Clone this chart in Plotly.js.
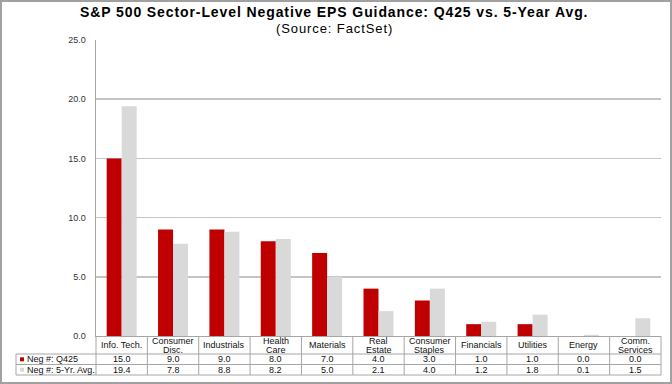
<!DOCTYPE html>
<html>
<head>
<meta charset="utf-8">
<script src="https://cdn.plot.ly/plotly-3.0.1.min.js"></script>
<style>html,body{margin:0;padding:0;background:#fff;}#chart{width:672px;height:384px;}</style>
</head>
<body>
<div id="chart"></div>
<script>
// ---- data ----
var categories = ['Info. Tech.', 'Consumer<br>Disc.', 'Industrials', 'Health<br>Care', 'Materials',
                  'Real<br>Estate', 'Consumer<br>Staples', 'Financials', 'Utilities', 'Energy', 'Comm.<br>Services'];
var seriesNames = ['Neg #: Q425', 'Neg #: 5-Yr. Avg.'];
var q425 = [15.0, 9.0, 9.0, 8.0, 7.0, 4.0, 3.0, 1.0, 1.0, 0.0, 0.0];
var fiveYrAvg = [19.4, 7.8, 8.8, 8.2, 5.0, 2.1, 4.0, 1.2, 1.8, 0.1, 1.5];
var titleText = 'S&P 500 Sector-Level Negative EPS Guidance: Q425 vs. 5-Year Avg.';
var subtitleText = '(Source: FactSet)';

// ---- geometry helpers (pixel -> paper) ----
var W = 672, H = 384, L = 96, R = 11, T = 40, B = 48;
var PW = W - L - R, PH = H - T - B;
function px(x) { return (x - L) / PW; }
function py(y) { return (H - B - y) / PH; }

var RED = '#C00000', GREY = '#D9D9D9', LINE = '#a6a6a6';
var FONT = 'Liberation Sans, Arial, sans-serif';
var xIdx = categories.map(function (c, i) { return i; });

var traces = [
  { type: 'bar', name: seriesNames[0], x: xIdx, y: q425, marker: { color: RED, line: { width: 0 } } },
  { type: 'bar', name: seriesNames[1], x: xIdx, y: fiveYrAvg, marker: { color: GREY, line: { width: 0 } } }
];

var annotations = [];
var shapes = [];

// titles
annotations.push({ xref: 'paper', yref: 'paper', x: px(334), y: py(12.5), xanchor: 'center', yanchor: 'middle',
  text: '<b><span style="letter-spacing:0.9px">' + titleText.replace(/&/g, '&amp;') + '</span></b>', showarrow: false,
  font: { family: FONT, size: 14, color: '#000' } });
annotations.push({ xref: 'paper', yref: 'paper', x: px(334.5), y: py(28.5), xanchor: 'center', yanchor: 'middle',
  text: '<span style="letter-spacing:0.9px">' + subtitleText + '</span>', showarrow: false,
  font: { family: FONT, size: 13, color: '#000' } });

var tfont = { family: FONT, size: 9, color: '#111' };
// category labels
categories.forEach(function (c, i) {
  var lines = c.split('<br>');
  if (lines.length === 1) {
    annotations.push({ xref: 'x', yref: 'paper', x: i, y: py(345), text: lines[0], showarrow: false,
      xanchor: 'center', yanchor: 'middle', font: tfont });
  } else {
    annotations.push({ xref: 'x', yref: 'paper', x: i, y: py(341), text: lines[0], showarrow: false,
      xanchor: 'center', yanchor: 'middle', font: tfont });
    annotations.push({ xref: 'x', yref: 'paper', x: i, y: py(349.5), text: lines[1], showarrow: false,
      xanchor: 'center', yanchor: 'middle', font: tfont });
  }
});
// value rows
var rowsY = [359.3, 369.7];
[q425, fiveYrAvg].forEach(function (arr, r) {
  arr.forEach(function (v, i) {
    annotations.push({ xref: 'x', yref: 'paper', x: i, y: py(rowsY[r]), text: v.toFixed(1), showarrow: false,
      xanchor: 'center', yanchor: 'middle', font: tfont });
  });
  annotations.push({ xref: 'paper', yref: 'paper', x: px(25), y: py(rowsY[r]), text: seriesNames[r], showarrow: false,
    xanchor: 'left', yanchor: 'middle', font: tfont });
  shapes.push({ type: 'rect', xref: 'paper', yref: 'paper', x0: px(20), x1: px(24), y0: py(rowsY[r] + 2), y1: py(rowsY[r] - 2),
    fillcolor: r === 0 ? RED : GREY, line: { width: 0 } });
});

// table grid
var lineStyle = { color: LINE, width: 1 };
for (var i = 0; i <= categories.length; i++) {
  var xp = i / categories.length;
  shapes.push({ type: 'line', xref: 'paper', yref: 'paper', x0: xp, x1: xp, y0: py(336), y1: py(375), line: lineStyle });
}
[354, 364.5, 375].forEach(function (yy) {
  shapes.push({ type: 'line', xref: 'paper', yref: 'paper', x0: px(16), x1: 1, y0: py(yy), y1: py(yy), line: lineStyle });
});
shapes.push({ type: 'line', xref: 'paper', yref: 'paper', x0: px(16), x1: px(16), y0: py(354), y1: py(375), line: lineStyle });

// outer frame
shapes.push({ type: 'rect', xref: 'paper', yref: 'paper', x0: px(1), x1: px(671), y0: py(383), y1: py(1),
  line: { color: '#a0a0a0', width: 2 }, fillcolor: 'rgba(0,0,0,0)' });

var layout = {
  width: W, height: H,
  margin: { l: L, r: R, t: T, b: B, pad: 0 },
  paper_bgcolor: '#fff', plot_bgcolor: '#fff',
  showlegend: false,
  barmode: 'group', bargap: 0.416, bargroupgap: 0,
  xaxis: { type: 'linear', range: [-0.5, categories.length - 0.5], showticklabels: false, showgrid: false,
           zeroline: false, showline: true, linecolor: LINE, linewidth: 1, ticks: '' },
  yaxis: { range: [0, 25], dtick: 5, tick0: 0, tickformat: '.1f', showgrid: true, gridcolor: '#c4c4c4', gridwidth: 1.5,
           zeroline: false, showline: true, linecolor: LINE, linewidth: 1.5, ticks: '', ticklabelstandoff: 7,
           tickfont: { family: FONT, size: 9, color: '#333' } },
  annotations: annotations,
  shapes: shapes
};

Plotly.newPlot('chart', traces, layout, { staticPlot: true, displayModeBar: false });
</script>
</body>
</html>
